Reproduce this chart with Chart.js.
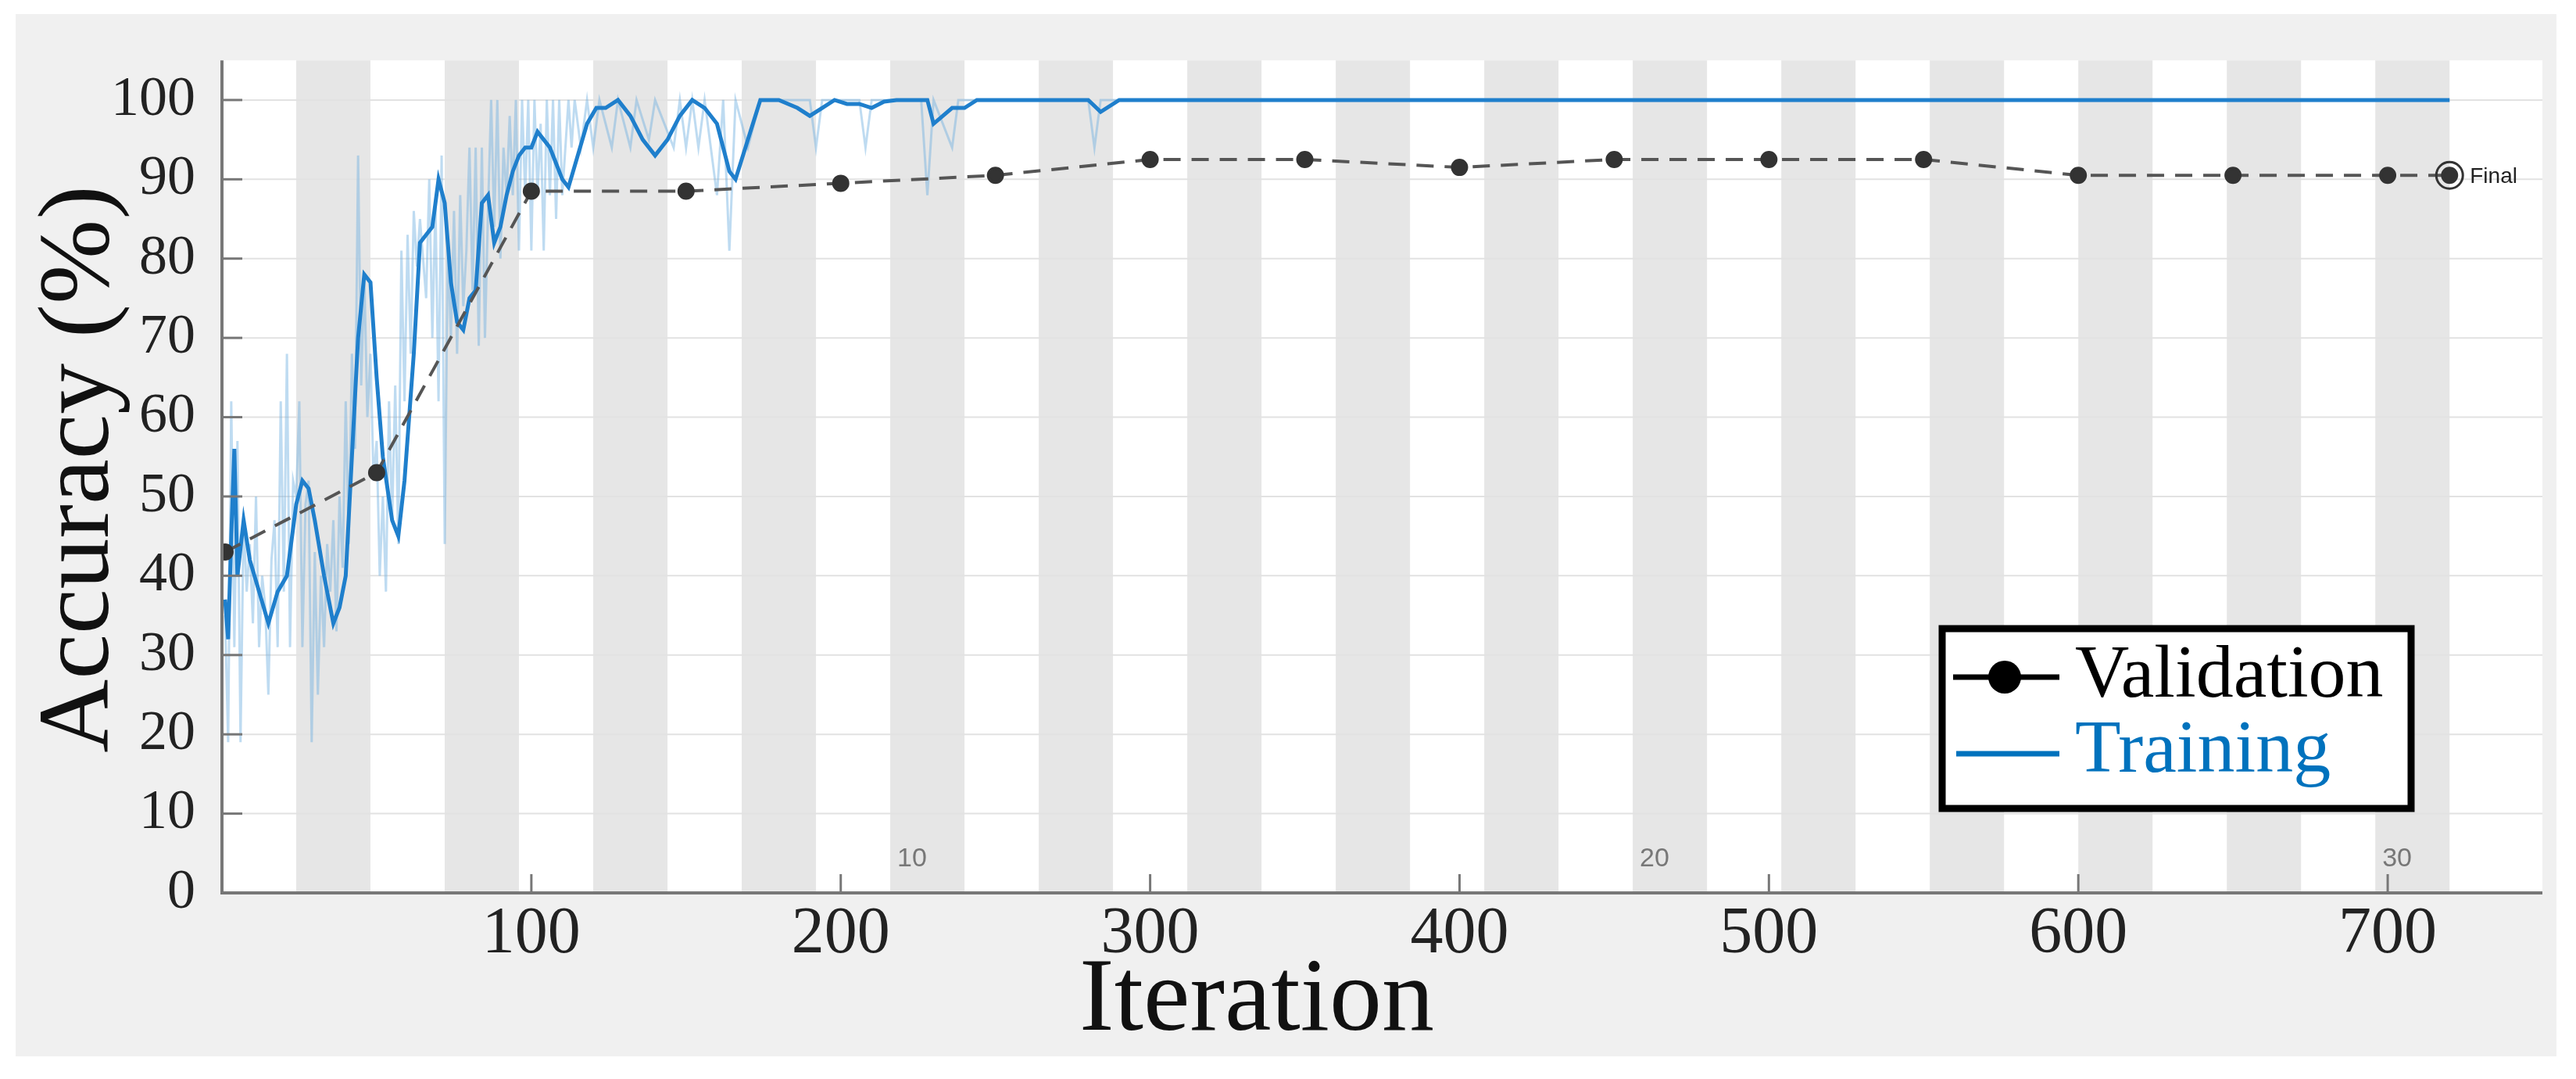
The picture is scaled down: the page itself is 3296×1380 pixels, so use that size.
<!DOCTYPE html>
<html>
<head>
<meta charset="utf-8">
<script src="https://cdn.jsdelivr.net/npm/chart.js@4"></script>
<style>
  html, body { margin: 0; padding: 0; background: #fff; }
  #wrap { width: 3296px; height: 1380px; position: relative; }
</style>
</head>
<body>
<div id="wrap"><canvas id="chart" width="3296" height="1380"></canvas></div>
<script>
// Validation accuracy (every 50 iterations + final)
const valIter = [1, 50, 100, 150, 200, 250, 300, 350, 400, 450, 500, 550, 600, 650, 700, 720];
const valAcc  = [43, 53, 88.5, 88.5, 89.5, 90.5, 92.5, 92.5, 91.5, 92.5, 92.5, 92.5, 90.5, 90.5, 90.5, 90.5];

// Smoothed training accuracy
const trainIter = [1, 2, 3, 4, 5, 7, 9, 12, 15, 18, 21, 24, 26, 28, 30, 33, 36, 38, 40, 42, 44, 46, 48, 50, 52, 55, 57, 59, 62, 64, 66, 68, 70, 72, 74, 76, 78, 80, 82, 84, 86, 88, 90, 92, 94, 96, 98, 100, 102, 104, 106, 108, 110, 112, 115, 118, 121, 124, 128, 132, 136, 140, 144, 148, 152, 156, 160, 164, 166, 170, 174, 180, 186, 190, 194, 198, 202, 206, 210, 214, 218, 228, 230, 236, 240, 244, 280, 284, 290, 720];
const trainAcc  = [37, 32, 45, 56, 40, 47, 42, 38, 34, 38, 40, 49, 52, 51, 47, 40, 34, 36, 40, 55, 70, 78, 77, 65, 55, 47, 45, 52, 68, 82, 83, 84, 90, 87, 77, 72, 71, 75, 76, 87, 88, 82, 84, 88, 91, 93, 94, 94, 96, 95, 94, 92, 90, 89, 93, 97, 99, 99, 100, 98, 95, 93, 95, 98, 100, 99, 97, 91, 90, 95, 100, 100, 99, 98, 99, 100, 99.5, 99.5, 99, 99.8, 100, 100, 97, 99, 99, 100, 100, 98.5, 100, 100];

// Raw (unsmoothed) training accuracy
const rawIter = [1,2,3,4,5,6,7,8,9,10,11,12,13,14,15,16,17,18,19,20,21,22,23,24,25,26,27,28,29,30,31,32,33,34,35,36,37,38,39,40,41,42,43,44,45,46,47,48,49,50,51,52,53,54,55,56,57,58,59,60,61,62,63,64,65,66,67,68,69,70,71,72,73,74,75,76,77,78,79,80,81,82,83,84,85,86,87,88,89,90,91,92,93,94,95,96,97,98,99,100,101,102,103,104,105,106,107,108,109,110,112,113,114,116,118,120,122,126,128,132,134,138,140,146,148,150,152,154,156,160,162,164,166,170,174,190,192,194,206,208,210,226,228,230,236,238,280,282,284,720];
const rawAcc  = [35,19,62,31,57,19,47,38,44,34,50,31,40,36,25,42,47,31,62,38,68,31,52,50,62,31,49,52,19,43,25,40,31,44,38,47,33,50,41,62,44,68,56,93,64,78,60,68,52,57,40,50,38,62,47,64,44,81,62,83,68,86,79,85,80,75,90,70,87,62,93,44,82,70,86,68,88,74,81,94,76,94,69,94,70,86,100,84,100,80,94,88,98,88,100,81,100,88,100,81,100,88,97,81,100,88,100,85,100,88,100,94,100,94,100,94,100,94,100,94,100,95,100,94,100,94,100,94,100,88,100,81,100,94,100,100,94,100,100,94,100,100,88,100,94,100,100,94,100,100];

const yTicks = [0, 10, 20, 30, 40, 50, 60, 70, 80, 90, 100];
const xTicks = [100, 200, 300, 400, 500, 600, 700];
const epochLabels = ['10', '20', '30'];
const epochIter = [220, 460, 700];
const epochLen = 24;
const totalIter = 720;

const serif = '"Liberation Serif", "DejaVu Serif", serif';
const sans = '"Liberation Sans", Arial, sans-serif';

const decor = {
  id: 'decor',
  beforeDraw(chart) {
    const { ctx, chartArea: a, scales: { x, y } } = chart;
    ctx.save();
    ctx.fillStyle = '#fff';
    ctx.fillRect(0, 0, chart.width, chart.height);
    ctx.fillStyle = '#f0f0f0';
    ctx.fillRect(20, 18, 3251, 1333);
    ctx.fillStyle = '#fff';
    ctx.fillRect(a.left, a.top, a.right - a.left, a.bottom - a.top);
    // epoch bands
    ctx.fillStyle = '#e6e6e6';
    for (let e = 1; e * epochLen < totalIter; e += 2) {
      const x0 = x.getPixelForValue(e * epochLen);
      const x1 = x.getPixelForValue((e + 1) * epochLen);
      ctx.fillRect(x0, a.top, x1 - x0, a.bottom - a.top);
    }
    // horizontal grid
    ctx.strokeStyle = '#e2e2e2';
    ctx.lineWidth = 2;
    yTicks.forEach(v => {
      const py = y.getPixelForValue(v);
      ctx.beginPath(); ctx.moveTo(a.left, py); ctx.lineTo(a.right, py); ctx.stroke();
    });
    ctx.restore();
  },
  afterDatasetsDraw(chart) {
    const { ctx, chartArea: a, scales: { x, y } } = chart;
    ctx.save();
    // axes
    ctx.strokeStyle = '#777';
    ctx.lineWidth = 4;
    ctx.beginPath();
    ctx.moveTo(a.left, a.top); ctx.lineTo(a.left, a.bottom); ctx.lineTo(a.right, a.bottom);
    ctx.stroke();
    ctx.lineWidth = 3;
    yTicks.forEach(v => {
      const py = y.getPixelForValue(v);
      ctx.beginPath(); ctx.moveTo(a.left, py); ctx.lineTo(a.left + 26, py); ctx.stroke();
    });
    xTicks.forEach(v => {
      const px = x.getPixelForValue(v);
      ctx.beginPath(); ctx.moveTo(px, a.bottom); ctx.lineTo(px, a.bottom - 24); ctx.stroke();
    });
    // epoch labels
    ctx.fillStyle = '#777';
    ctx.font = '34px ' + sans;
    ctx.textAlign = 'center';
    ctx.textBaseline = 'bottom';
    epochIter.forEach((v, i) => {
      const px = x.getPixelForValue(v);
      ctx.fillText(epochLabels[i], px + 12, a.bottom - 26);
    });
    // final marker
    const fx = x.getPixelForValue(valIter[valIter.length - 1]);
    const fy = y.getPixelForValue(valAcc[valAcc.length - 1]);
    ctx.strokeStyle = '#333'; ctx.lineWidth = 3;
    ctx.beginPath(); ctx.arc(fx, fy, 17, 0, Math.PI * 2); ctx.stroke();
    ctx.fillStyle = '#222';
    ctx.font = '28px ' + sans;
    ctx.textAlign = 'left'; ctx.textBaseline = 'middle';
    ctx.fillText('Final', fx + 26, fy + 2);
    // titles
    ctx.fillStyle = '#111';
    ctx.font = '134px ' + serif;
    ctx.textAlign = 'center'; ctx.textBaseline = 'middle';
    ctx.fillText('Iteration', 1608, 1282);
    ctx.save();
    ctx.translate(104, 600); ctx.rotate(-Math.PI / 2);
    ctx.font = '130px ' + serif;
    ctx.fillText('Accuracy (%)', 0, 0);
    ctx.restore();
    // legend
    const lx = 2485, ly = 804, lw = 600, lh = 230;
    ctx.fillStyle = '#fff'; ctx.fillRect(lx, ly, lw, lh);
    ctx.strokeStyle = '#000'; ctx.lineWidth = 9;
    ctx.strokeRect(lx, ly, lw, lh);
    ctx.lineWidth = 7;
    ctx.beginPath(); ctx.moveTo(lx + 14, ly + 62); ctx.lineTo(lx + 150, ly + 62); ctx.stroke();
    ctx.fillStyle = '#000';
    ctx.beginPath(); ctx.arc(lx + 80, ly + 62, 21, 0, Math.PI * 2); ctx.fill();
    ctx.strokeStyle = '#0072bd';
    ctx.beginPath(); ctx.moveTo(lx + 18, ly + 160); ctx.lineTo(lx + 150, ly + 160); ctx.stroke();
    ctx.font = '96px ' + serif;
    ctx.textAlign = 'left'; ctx.textBaseline = 'middle';
    ctx.fillStyle = '#000'; ctx.fillText('Validation', lx + 170, ly + 62);
    ctx.fillStyle = '#0072bd'; ctx.fillText('Training', lx + 170, ly + 158);
    ctx.restore();
  }
};

const toXY = (xs, ys) => xs.map((v, i) => ({ x: v, y: ys[i] }));

new Chart(document.getElementById('chart'), {
  type: 'line',
  data: {
    datasets: [
      {
        label: 'Validation',
        data: toXY(valIter, valAcc),
        borderColor: '#555',
        borderWidth: 4,
        borderDash: [22, 14],
        pointRadius: 9,
        pointBackgroundColor: '#333',
        pointBorderColor: '#333',
        tension: 0
      },
      {
        label: 'Training',
        data: toXY(trainIter, trainAcc),
        borderColor: '#1f7fcc',
        borderWidth: 5,
        pointRadius: 0,
        tension: 0
      },
      {
        label: 'Raw',
        data: toXY(rawIter, rawAcc),
        borderColor: 'rgba(110,175,225,0.45)',
        borderWidth: 3,
        pointRadius: 0,
        tension: 0
      }
    ]
  },
  options: {
    responsive: false,
    animation: false,
    layout: { padding: { left: 0, top: 26, right: 43, bottom: 0 } },
    plugins: { legend: { display: false }, tooltip: { enabled: false } },
    scales: {
      x: {
        type: 'linear', min: 0, max: 750,
        afterBuildTicks: s => { s.ticks = xTicks.map(v => ({ value: v })); },
        afterFit: s => { s.height = 238; },
        grid: { display: false, drawTicks: false },
        border: { display: false },
        ticks: { color: '#222', font: { family: serif, size: 84 }, padding: 4, maxRotation: 0 }
      },
      y: {
        min: 0, max: 105,
        afterBuildTicks: s => { s.ticks = yTicks.map(v => ({ value: v })); },
        afterFit: s => { s.width = 284; },
        grid: { display: false, drawTicks: false },
        border: { display: false },
        ticks: { color: '#222', font: { family: serif, size: 72 }, padding: 34 }
      }
    }
  },
  plugins: [decor]
});
</script>
</body>
</html>
